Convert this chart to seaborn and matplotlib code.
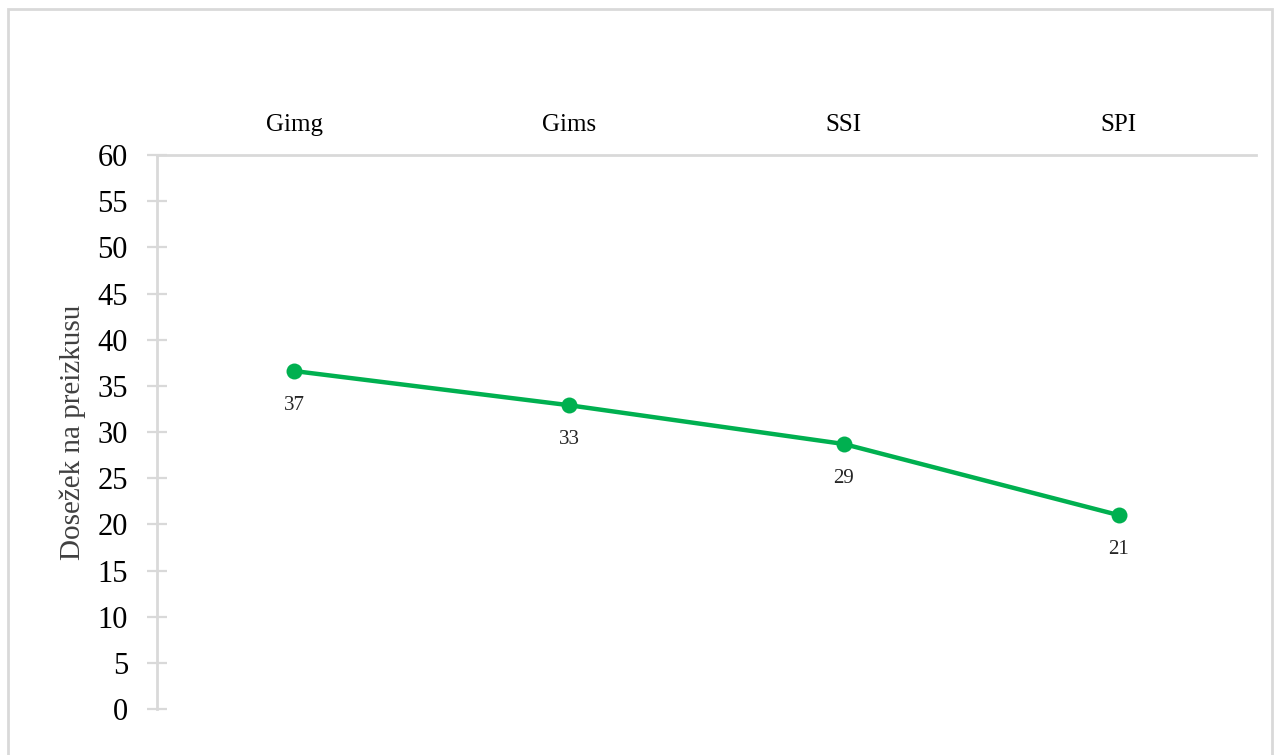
import matplotlib
matplotlib.use("Agg")
import numpy as np
import pandas as pd
import seaborn as sns
from matplotlib import pyplot as plt
from matplotlib.patches import Rectangle

# podatki
skupine = ["Gimg", "Gims", "SSI", "SPI"]
dosezki = [36.6, 32.9, 28.7, 21.0]
oznake = ["37", "33", "29", "21"]

sns.set_style("white")
plt.rcParams['font.family'] = ['Liberation Serif', 'DejaVu Serif']

df_data = pd.DataFrame({"Skupina": skupine, "Dosezek": dosezki})

fig = plt.figure(figsize=(12.8, 7.55), dpi=100)
ax = fig.add_axes([0.1227, 0.0609, 0.8586, 0.7338])

sns.lineplot(data=df_data, x="Skupina", y="Dosezek", ax=ax, color="#00B050",
             linewidth=3.2, marker="o", markersize=11.5, markeredgewidth=0, sort=False)

ax.set_xlim(-0.5, len(skupine) - 0.5)
ax.set_ylim(0, 60)
ax.set_yticks(np.arange(0, 61, 5))

#oznake podatkov pod točkami
for i, (v, t) in enumerate(zip(dosezki, oznake)):
    ax.annotate(t, (i, v), xytext=(0, -25), textcoords="offset points",
                ha="center", va="center", fontsize=15, color="#262626")

ax.xaxis.tick_top()
ax.tick_params(axis="x", length=0, pad=14, labelsize=18, colors="#000000")
ax.tick_params(axis="y", left=True, direction="inout", length=14, width=1.6, color="#d9d9d9",
               labelsize=22, pad=14, labelcolor="#000000")
ax.set_xlabel("")
ax.set_ylabel("Dosežek na preizkusu", fontsize=21, labelpad=8, color="#404040")

for s in ["bottom", "right"]:
    ax.spines[s].set_visible(False)
for s in ["top", "left"]:
    ax.spines[s].set_color("#d9d9d9")
    ax.spines[s].set_linewidth(2)

#okvir okoli grafa
fig.patches.append(Rectangle((8 / 1280, -0.05), 1264 / 1280, 1.05 - 9 / 755,
                             transform=fig.transFigure, fill=False,
                             edgecolor="#d9d9d9", linewidth=2))

fig.savefig("out.png", dpi=100)
